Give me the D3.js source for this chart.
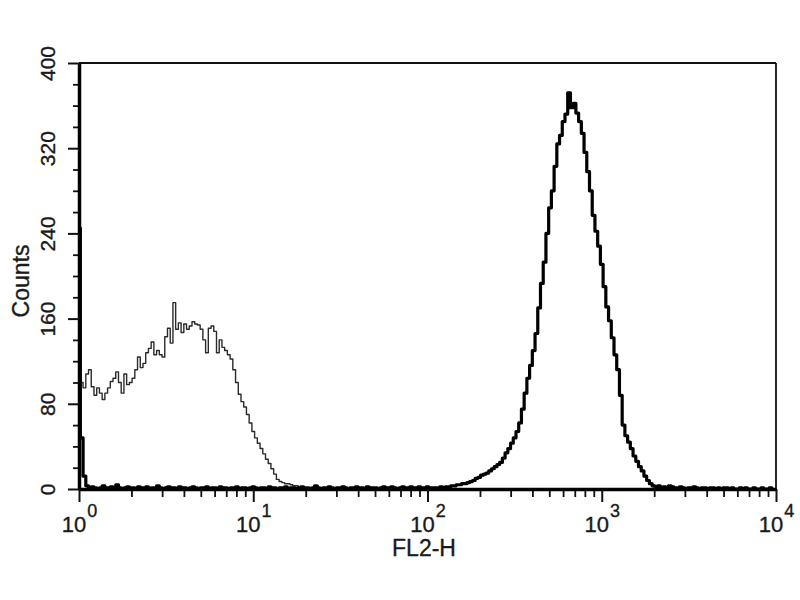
<!DOCTYPE html>
<html>
<head>
<meta charset="utf-8">
<script src="https://cdn.jsdelivr.net/npm/d3@7"></script>
<style>
  html, body { margin: 0; padding: 0; background: #fff; }
  svg { display: block; }
  text { font-family: "Liberation Sans", Arial, Helvetica, sans-serif; fill: #1a1a1a; stroke: #1a1a1a; stroke-width: 0.35px; }
</style>
</head>
<body>
<svg id="chart" width="800" height="600"></svg>
<script>
// ---- Data ----
// Histogram channels: 64 channels per decade over 4 decades (10^0 .. 10^4)
const binsPerDecade = 64;
const xTickValues = [1, 10, 100, 1000, 10000];
const xTickExponents = ["0", "1", "2", "3", "4"];
const yTickValues = [0, 80, 160, 240, 320, 400];
const yMinorTickValues = [20, 40, 60, 100, 120, 140, 180, 200, 220, 260, 280, 300, 340, 360, 380];
const xLabel = "FL2-H";
const yLabel = "Counts";

// Isotype control (thin line), counts per channel starting at channel 0
const controlCounts = [
  93,100,95,108,112,96,88,95,90,84,
  90,95,101,104,110,100,90,108,98,100,
  104,112,124,114,118,128,132,138,126,130,
  126,124,143,151,137,175,150,156,147,155,
  150,153,157,155,154,150,140,128,151,153,
  148,128,140,133,130,126,122,112,100,89,
  82,77,70,62,54,48,43,38,33,28,
  24,19,14,9,7,6,5,5,4,3,
  3,2,1,0
];

// Stained sample (thick line), counts per channel 0..255
const stainedCounts = [
  245,48,12,3,1,2,1,0,1,3,
  1,1,2,1,4,1,0,1,2,1,
  1,0,2,1,1,2,0,1,1,3,
  1,0,1,2,1,1,0,2,1,1,
  0,1,2,1,0,1,1,2,0,1,
  1,0,2,1,1,0,1,1,2,0,
  1,1,0,1,2,1,0,1,1,0,
  2,1,1,0,1,1,2,0,1,1,
  0,1,2,1,1,0,1,3,1,0,
  1,1,2,1,0,1,1,2,1,0,
  1,1,2,1,1,0,2,1,1,1,
  0,1,2,1,1,2,1,0,1,2,
  1,1,2,1,1,2,1,1,2,1,
  1,1,1,2,1,2,2,3,3,4,
  4,5,5,6,7,8,10,11,13,14,
  15,17,19,21,23,25,29,34,38,43,
  48,54,62,75,90,104,116,130,146,170,
  193,213,240,264,280,303,324,332,345,352,
  372,358,362,353,345,334,316,298,280,257,
  242,228,211,190,171,158,142,126,112,88,
  60,50,44,38,31,26,21,17,12,8,
  5,3,2,3,1,2,1,3,2,1,
  1,2,1,0,1,1,2,1,0,1,
  1,0,1,1,0,1,0,1,1,0,
  1,0,0,1,0,1,0,0,1,0,
  0,1,0,0,1,0
];

// ---- Chart ----
const svg = d3.select("#chart");
const plotLeft = 79, plotRight = 776, plotTop = 63, plotBottom = 489;

const x = d3.scaleLog().domain([1, 10000]).range([plotLeft, plotRight]);
const y = d3.scaleLinear().domain([0, 400]).range([plotBottom, plotTop]);

const channelValue = i => Math.pow(10, i / binsPerDecade);

const line = d3.line()
  .x((d, i) => x(channelValue(i)))
  .y(d => y(d))
  .curve(d3.curveStep);

// frame top & right (thin)
svg.append("line").attr("x1", plotLeft).attr("x2", plotRight).attr("y1", plotTop).attr("y2", plotTop)
  .attr("stroke", "#111").attr("stroke-width", 1.8);
svg.append("line").attr("x1", plotRight).attr("x2", plotRight).attr("y1", plotTop).attr("y2", plotBottom)
  .attr("stroke", "#111").attr("stroke-width", 1.8);

// series
svg.append("path").datum(controlCounts)
  .attr("d", line).attr("fill", "none")
  .attr("stroke", "#2a2a2a").attr("stroke-width", 1.4).attr("stroke-linejoin", "round");
svg.append("path").datum(stainedCounts)
  .attr("d", line).attr("fill", "none")
  .attr("stroke", "#000").attr("stroke-width", 3.2).attr("stroke-linejoin", "round");

// Y axis minor ticks
svg.append("g").attr("transform", `translate(${plotLeft},0)`)
  .call(d3.axisLeft(y).tickValues(yMinorTickValues).tickSize(6).tickFormat(""))
  .call(g => g.select(".domain").remove())
  .call(g => g.selectAll("line").attr("stroke", "#111").attr("stroke-width", 1.8));

// Y axis major
const yAxis = svg.append("g").attr("transform", `translate(${plotLeft},0)`)
  .call(d3.axisLeft(y).tickValues(yTickValues).tickSize(11).tickSizeOuter(0).tickFormat(d3.format("d")));
yAxis.select(".domain").attr("stroke", "#000").attr("stroke-width", 3.5);
yAxis.selectAll(".tick line").attr("stroke", "#111").attr("stroke-width", 2);
yAxis.selectAll(".tick text")
  .attr("x", 0).attr("y", 0).attr("dy", null)
  .attr("transform", "translate(-24,0) rotate(-90)")
  .attr("text-anchor", "middle")
  .style("font-size", "21px")
  .style("fill", "#1a1a1a");

// X axis minor ticks
const xMinor = [];
for (let dec = 1; dec < 10000; dec *= 10) for (let m = 2; m <= 9; m++) xMinor.push(dec * m);
svg.append("g").attr("transform", `translate(0,${plotBottom})`)
  .call(d3.axisBottom(x).tickValues(xMinor).tickSize(8).tickFormat(""))
  .call(g => g.select(".domain").remove())
  .call(g => g.selectAll("line").attr("stroke", "#111").attr("stroke-width", 1.8));

// X axis major
const xAxis = svg.append("g").attr("transform", `translate(0,${plotBottom})`)
  .call(d3.axisBottom(x).tickValues(xTickValues).tickSize(13).tickSizeOuter(0).tickFormat(""));
xAxis.select(".domain").attr("stroke", "#000").attr("stroke-width", 3.5);
xAxis.selectAll(".tick line").attr("stroke", "#111").attr("stroke-width", 2);
xAxis.selectAll(".tick text").remove();
xAxis.selectAll(".tick").each(function(d, i) {
  const t = d3.select(this).append("text")
    .attr("y", 43).attr("text-anchor", "middle")
    .style("font-size", "22px").style("fill", "#1a1a1a");
  t.append("tspan").text("10");
  t.append("tspan").attr("dy", -15).attr("dx", 1).style("font-size", "18px").text(xTickExponents[i]);
});

// Axis titles
svg.append("text")
  .attr("x", 424).attr("y", 556)
  .attr("text-anchor", "middle").style("font-size", "23px")
  .text(xLabel);
svg.append("text")
  .attr("transform", "translate(29,281) rotate(-90)")
  .attr("text-anchor", "middle").style("font-size", "23px")
  .text(yLabel);
</script>
</body>
</html>
